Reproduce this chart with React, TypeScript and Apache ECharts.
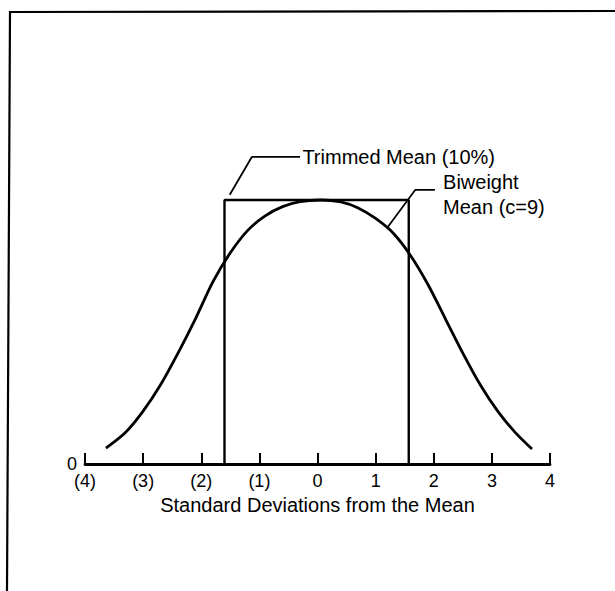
import React, { useEffect, useRef } from "react";
import * as echarts from "echarts";

const tickValues = [-4, -3, -2, -1, 0, 1, 2, 3, 4];
const tickLabels = ["(4)", "(3)", "(2)", "(1)", "0", "1", "2", "3", "4"];
const axisTitle = "Standard Deviations from the Mean";

const curveZ = [-3.64, -3.3, -3.0, -2.7, -2.4, -2.1, -1.8, -1.5, -1.2, -0.9, -0.6, -0.3, 0.05, 0.4, 0.7, 1.0, 1.3, 1.6, 1.9, 2.2, 2.5, 2.8, 3.1, 3.4, 3.69];
const curveV = [0.06, 0.12, 0.2, 0.3, 0.42, 0.55, 0.69, 0.8, 0.885, 0.94, 0.975, 0.994, 1.0, 0.993, 0.97, 0.93, 0.875, 0.79, 0.68, 0.55, 0.42, 0.3, 0.2, 0.12, 0.057];

const trimLow = -1.6;
const trimHigh = 1.57;
const trimTop = 1.0;

const trimLeaderZ = [-1.51, -1.13, -0.3];
const trimLeaderV = [1.02, 1.163, 1.163];
const trimText = "Trimmed Mean (10%)";
const trimTextAt = [-0.26, 1.163];

const biLeaderZ = [1.21, 1.68, 2.02];
const biLeaderV = [0.898, 1.038, 1.038];
const biText = "Biweight\nMean (c=9)";
const biTextAt = [2.16, 1.02];

const FONT = "'Liberation Sans', Arial, Helvetica, sans-serif";

export default function App() {
  const ref = useRef<HTMLDivElement>(null);
  useEffect(() => {
    if (!ref.current) return;
    const chart = echarts.init(ref.current, null, { renderer: "svg" });
    const labelMap: Record<string, string> = {};
    tickValues.forEach((v, i) => (labelMap[String(v)] = tickLabels[i]));
    const zip = (a: number[], b: number[]) => a.map((x, i) => [x, b[i]]);
    chart.setOption({
      animation: false,
      backgroundColor: "#fff",
      grid: { left: 85, right: 65, top: 147.2, bottom: 127 },
      xAxis: {
        type: "value",
        min: -4,
        max: 4,
        interval: 1,
        axisLine: { show: true, onZero: false, lineStyle: { color: "#000", width: 2.8 } },
        axisTick: { show: true, inside: true, length: 11, lineStyle: { color: "#000", width: 2 } },
        splitLine: { show: false },
        axisLabel: {
          margin: 8,
          color: "#000",
          fontFamily: FONT,
          fontSize: 18,
          formatter: (v: number) => labelMap[String(v)] ?? "",
        },
        name: axisTitle,
        nameLocation: "middle",
        nameGap: 31,
        nameTextStyle: { color: "#000", fontFamily: FONT, fontSize: 20 },
      },
      yAxis: {
        type: "value",
        min: 0,
        max: 1.2,
        interval: 0.6,
        axisLine: { show: false },
        axisTick: { show: false },
        splitLine: { show: false },
        axisLabel: {
          margin: 8,
          color: "#000",
          fontFamily: FONT,
          fontSize: 18,
          padding: [0, 0, 12, 0],
          formatter: (v: number) => (v === 0 ? "0" : ""),
        },
      },
      series: [
        {
          type: "line",
          data: zip(curveZ, curveV),
          smooth: 0.3,
          symbol: "none",
          clip: false,
          lineStyle: { color: "#000", width: 2.8 },
        },
        {
          type: "line",
          data: [
            [trimLow, 0],
            [trimLow, trimTop],
            [trimHigh, trimTop],
            [trimHigh, 0],
          ],
          symbol: "none",
          clip: false,
          lineStyle: { color: "#000", width: 2.4 },
        },
        {
          type: "line",
          data: zip(trimLeaderZ, trimLeaderV),
          symbol: "none",
          clip: false,
          lineStyle: { color: "#000", width: 1.8 },
        },
        {
          type: "line",
          data: zip(biLeaderZ, biLeaderV),
          symbol: "none",
          clip: false,
          lineStyle: { color: "#000", width: 1.8 },
        },
      ],
    });
    const p1 = chart.convertToPixel({ gridIndex: 0 }, trimTextAt) as number[];
    const p2 = chart.convertToPixel({ gridIndex: 0 }, biTextAt) as number[];
    chart.setOption({
      graphic: [
        {
          type: "polyline",
          shape: { points: [[7, 591], [10, 12], [615, 11]] },
          style: { stroke: "#000", lineWidth: 2.2, fill: "none" },
        },
        {
          type: "text",
          x: p1[0],
          y: p1[1],
          style: {
            text: trimText,
            fill: "#000",
            font: `20px ${FONT}`,
            textAlign: "left",
            textVerticalAlign: "middle",
          },
        },
        {
          type: "text",
          x: p2[0],
          y: p2[1],
          style: {
            text: biText,
            fill: "#000",
            font: `20px ${FONT}`,
            lineHeight: 25,
            textAlign: "left",
            textVerticalAlign: "middle",
          },
        },
      ],
    });
    return () => chart.dispose();
  }, []);
  return (
    <div
      ref={ref}
      style={{ position: "fixed", left: 0, top: 0, width: 615, height: 591 }}
    />
  );
}
